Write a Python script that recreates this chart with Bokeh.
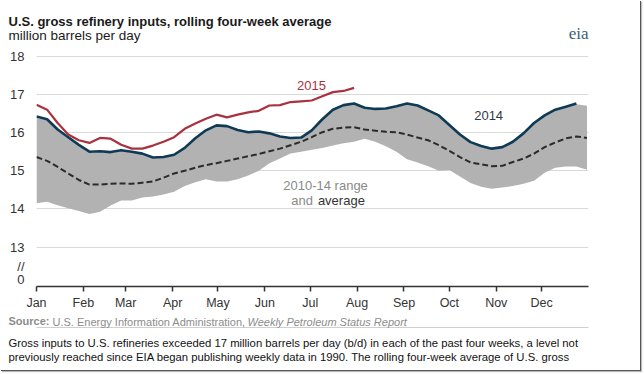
from bokeh.plotting import figure
from bokeh.models import FixedTicker, Label, Title, LinearAxis
from bokeh.embed import file_html
from bokeh.resources import INLINE

# ---------------- data ----------------
month_names = ["Jan", "Feb", "Mar", "Apr", "May", "Jun",
               "Jul", "Aug", "Sep", "Oct", "Nov", "Dec"]
month_start_day = [0, 31, 59, 90, 120, 151, 181, 212, 243, 273, 304, 334]

weeks_2015 = list(range(31))
weeks_2014 = list(range(52))
weeks_range = list(range(53))

inputs_2015 = [16.73, 16.60, 16.25, 15.95, 15.80, 15.73, 15.86, 15.84, 15.68, 15.58,
               15.58, 15.66, 15.76, 15.88, 16.10, 16.24, 16.36, 16.47, 16.40, 16.47,
               16.53, 16.57, 16.71, 16.72, 16.80, 16.82, 16.84, 16.95, 17.06, 17.09,
               17.17]

inputs_2014 = [16.42, 16.35, 16.08, 15.88, 15.68, 15.50, 15.51, 15.49, 15.54, 15.50,
               15.45, 15.35, 15.36, 15.42, 15.60, 15.85, 16.06, 16.19, 16.17, 16.07,
               16.01, 16.03, 15.98, 15.90, 15.86, 15.87, 16.06, 16.35, 16.60, 16.72,
               16.76, 16.65, 16.62, 16.63, 16.69, 16.76, 16.71, 16.58, 16.45, 16.20,
               15.95, 15.75, 15.65, 15.58, 15.62, 15.76, 15.98, 16.25, 16.45, 16.60,
               16.68, 16.76]

range_high = [16.38, 16.33, 16.06, 15.86, 15.66, 15.48, 15.49, 15.47, 15.52, 15.48,
              15.43, 15.33, 15.34, 15.40, 15.58, 15.83, 16.04, 16.17, 16.15, 16.05,
              15.99, 16.01, 15.96, 15.88, 15.84, 15.85, 16.04, 16.33, 16.58, 16.70,
              16.74, 16.63, 16.60, 16.61, 16.67, 16.74, 16.69, 16.56, 16.43, 16.18,
              15.93, 15.73, 15.63, 15.56, 15.60, 15.74, 15.96, 16.23, 16.43, 16.58,
              16.66, 16.74, 16.70]

range_avg = [15.36, 15.26, 15.10, 14.93, 14.76, 14.64, 14.64, 14.66, 14.67, 14.66,
             14.69, 14.72, 14.82, 14.93, 15.00, 15.08, 15.15, 15.20, 15.26, 15.32,
             15.38, 15.44, 15.51, 15.58, 15.67, 15.76, 15.88, 16.01, 16.10, 16.13,
             16.14, 16.08, 16.05, 16.02, 16.01, 15.95, 15.87, 15.80, 15.67, 15.52,
             15.36, 15.22, 15.17, 15.12, 15.13, 15.23, 15.32, 15.45, 15.62, 15.74,
             15.85, 15.90, 15.86]

range_low = [14.15, 14.19, 14.10, 14.02, 13.95, 13.87, 13.93, 14.09, 14.22, 14.22,
             14.30, 14.33, 14.38, 14.45, 14.60, 14.70, 14.78, 14.72, 14.72, 14.78,
             14.88, 15.00, 15.20, 15.32, 15.45, 15.50, 15.55, 15.60, 15.66, 15.72,
             15.76, 15.84, 15.76, 15.64, 15.50, 15.30, 15.22, 15.12, 15.00, 15.02,
             14.85, 14.68, 14.58, 14.53, 14.56, 14.60, 14.66, 14.74, 14.95, 15.08,
             15.11, 15.11, 15.03]

y_ticks = [12.15, 12.5, 13, 14, 15, 16, 17, 18]
y_tick_labels = ["0", "//", "13", "14", "15", "16", "17", "18"]
grid_values = [13, 14, 15, 16, 17, 18]

day_2015 = [7 * w for w in weeks_2015]
day_2014 = [7 * w for w in weeks_2014]
day_range = [7 * w for w in weeks_range]

FONT = "Liberation Sans"
RED = "#a8323f"
BLUE = "#0f3a55"
GRAY_FILL = "#b2b2b2"
SRC_GRAY = "#8c8c8c"

# ---------------- figure ----------------
p = figure(width=640, height=370, x_range=(0, 365), y_range=(11.971, 18.097),
           output_backend="svg", toolbar_location=None,
           min_border_left=36, min_border_right=52, min_border_top=52,
           min_border_bottom=84)
p.outline_line_color = None
p.background_fill_color = "white"
p.border_fill_color = "white"
p.styles = {"box-shadow": "1px 1px 0px 0px #555555, 2px 2px 1px 0px #bbbbbb"}

p.xgrid.visible = False
p.ygrid.ticker = FixedTicker(ticks=grid_values)
p.ygrid.grid_line_color = "#d9d9d9"
p.ygrid.grid_line_width = 1

xa = p.xaxis[0]
xa.ticker = FixedTicker(ticks=month_start_day)
xa.major_label_overrides = {d: m for d, m in zip(month_start_day, month_names)}
xa.major_tick_out = 5
xa.major_tick_in = 0
xa.minor_tick_line_color = None
xa.axis_line_color = "#333333"
xa.axis_line_width = 1.5
xa.major_tick_line_color = "#333333"
xa.major_tick_line_width = 1.5
xa.major_label_standoff = 4
xa.major_label_text_font = FONT
xa.major_label_text_font_size = "12.5px"
xa.major_label_text_color = "#333333"

ya = p.yaxis[0]
ya.ticker = FixedTicker(ticks=y_ticks)
ya.major_label_overrides = {t: s for t, s in zip(y_ticks, y_tick_labels)}
ya.axis_line_color = None
ya.major_tick_line_color = None
ya.minor_tick_line_color = None
ya.major_tick_out = 0
ya.major_tick_in = 0
ya.major_label_standoff = 12
ya.major_label_text_font = FONT
ya.major_label_text_font_size = "13px"
ya.major_label_text_color = "#333333"

# range band, average, lines
p.varea(x=day_range, y1=range_low, y2=range_high, fill_color=GRAY_FILL)
p.line(day_range, range_avg, line_color="#2b2b2b", line_width=2, line_dash="6 3")
p.line(day_2014, inputs_2014, line_color=BLUE, line_width=2.6)
p.line(day_2015, inputs_2015, line_color=RED, line_width=2.2)

# in-chart labels (data coordinates)
def dlabel(x, y, text, color, size="13px", align="left", style="normal"):
    p.add_layout(Label(x=x, y=y, text=text, text_color=color, text_font=FONT,
                       text_font_size=size, text_align=align,
                       text_baseline="middle", text_font_style=style))

dlabel(25.98 * 7, 17.233, "2015", RED, align="center")
dlabel(42.71 * 7, 16.435, "2014", "#2e3a48", align="center")
dlabel(23.31 * 7, 14.623, "2010-14  range", "#8a8a8a")
dlabel(24.06 * 7, 14.22, "and", "#8a8a8a")
dlabel(26.58 * 7, 14.22, "average", "#333333")

# ---------------- titles (side panels; standoffs tuned to place baselines) ----
def title(text, place, size, style="normal", color="#1a1a1a", standoff=0.0,
          offset=-28, align="left", font=FONT):
    p.add_layout(Title(text=text, align=align, offset=offset, text_font=font,
                       text_font_size=size, text_font_style=style,
                       text_color=color, standoff=standoff), place)

# above: rows stack outward from the frame
title("million barrels per day", "above", "13.5px", standoff=19.3)
title("U.S. gross  refinery inputs,  rolling four-week average", "above", "13px",
      "bold", standoff=-24.3)
title("eia", "above", "17px", color="#3b5d7c", standoff=-52.1, offset=0,
      align="right", font="Liberation Serif")

# below: source line (three pieces on one baseline), divider, paragraph
title("U.S. Energy Information Administration,", "below", "11px", "normal",
      SRC_GRAY, standoff=-30.0, offset=16)
title("Weekly Petroleum Status Report", "below", "11px", "italic", SRC_GRAY,
      standoff=-30.0, offset=211)
title("Source:", "below", "11px", "bold", SRC_GRAY, standoff=1.4)

divider = LinearAxis(ticker=FixedTicker(ticks=[]), bounds=(-18.5, 399.4),
                     axis_line_color="#cfcfcf", axis_line_width=1.2,
                     major_tick_out=0, major_tick_in=0, minor_tick_out=0,
                     minor_tick_in=0, major_label_standoff=0,
                     major_label_text_font_size="0px")
p.add_layout(divider, "below")

title("Gross inputs to U.S. refineries exceeded 17 million barrels per day (b/d) in "
      "each of the past four weeks, a level not", "below", "11.3px",
      color="#111111", standoff=-43.4)
title("previously reached since EIA began publishing weekly data in 1990. The rolling "
      "four-week average of U.S. gross", "below", "11.3px", color="#111111",
      standoff=-70.4)

open("out.html", "w").write(file_html(p, INLINE))
